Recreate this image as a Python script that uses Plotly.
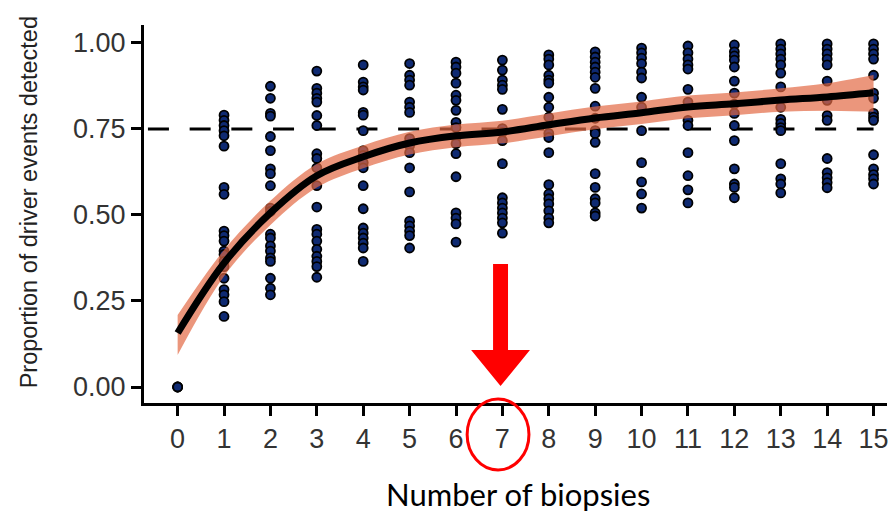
import plotly.graph_objects as go

# ---------------- data ----------------
biopsies = list(range(16))

obs = {
    0: [0.0, 0.0, 0.0],
    1: [0.79, 0.775, 0.76, 0.745, 0.73, 0.70, 0.58, 0.56, 0.453, 0.44, 0.424, 0.395, 0.385,
        0.365, 0.35, 0.316, 0.283, 0.268, 0.248, 0.205],
    2: [0.874, 0.839, 0.795, 0.787, 0.728, 0.687, 0.634, 0.62, 0.585, 0.52, 0.51, 0.444,
        0.433, 0.41, 0.395, 0.375, 0.365, 0.316, 0.287, 0.268],
    3: [0.918, 0.868, 0.854, 0.839, 0.828, 0.789, 0.76, 0.678, 0.664, 0.637, 0.585, 0.523,
        0.458, 0.444, 0.424, 0.40, 0.38, 0.365, 0.35, 0.319],
    4: [0.936, 0.886, 0.872, 0.863, 0.798, 0.79, 0.745, 0.687, 0.673, 0.652, 0.637, 0.585,
        0.518, 0.462, 0.447, 0.433, 0.418, 0.404, 0.365],
    5: [0.94, 0.906, 0.892, 0.877, 0.828, 0.813, 0.798, 0.722, 0.702, 0.681, 0.637, 0.567,
        0.482, 0.468, 0.453, 0.44, 0.404],
    6: [0.944, 0.93, 0.912, 0.883, 0.848, 0.833, 0.804, 0.769, 0.754, 0.725, 0.707, 0.678,
        0.611, 0.506, 0.491, 0.474, 0.421],
    7: [0.95, 0.921, 0.892, 0.877, 0.865, 0.807, 0.751, 0.74, 0.716, 0.649, 0.55, 0.535,
        0.52, 0.506, 0.491, 0.477, 0.447],
    8: [0.965, 0.953, 0.936, 0.906, 0.892, 0.883, 0.842, 0.813, 0.784, 0.737, 0.725, 0.681,
        0.588, 0.561, 0.547, 0.532, 0.512, 0.491, 0.477],
    9: [0.974, 0.959, 0.944, 0.93, 0.915, 0.90, 0.868, 0.816, 0.781, 0.745, 0.737, 0.711,
        0.62, 0.58, 0.547, 0.535, 0.506, 0.497],
    10: [0.985, 0.971, 0.956, 0.94, 0.915, 0.898, 0.842, 0.813, 0.745, 0.652, 0.596, 0.561, 0.52],
    11: [0.991, 0.971, 0.953, 0.936, 0.924, 0.865, 0.828, 0.775, 0.76, 0.681, 0.614, 0.573, 0.535],
    12: [0.994, 0.974, 0.962, 0.95, 0.93, 0.889, 0.854, 0.822, 0.795, 0.76, 0.716, 0.634,
         0.59, 0.58, 0.55],
    13: [0.997, 0.982, 0.968, 0.953, 0.936, 0.912, 0.872, 0.813, 0.778, 0.766, 0.754, 0.745,
         0.649, 0.605, 0.59, 0.564],
    14: [0.997, 0.982, 0.968, 0.953, 0.936, 0.889, 0.833, 0.789, 0.775, 0.664, 0.623, 0.608,
         0.594, 0.579],
    15: [0.997, 0.982, 0.968, 0.953, 0.906, 0.854, 0.839, 0.795, 0.784, 0.775, 0.675, 0.634,
         0.617, 0.605, 0.59],
}

# smoothed fit and its confidence band
fit = [0.157, 0.36, 0.506, 0.614, 0.669, 0.709, 0.73, 0.741, 0.762, 0.782, 0.797,
       0.814, 0.823, 0.834, 0.843, 0.855]
fit_upper = [0.209, 0.398, 0.541, 0.648, 0.702, 0.742, 0.763, 0.774, 0.795, 0.815, 0.83,
             0.847, 0.856, 0.868, 0.883, 0.907]
fit_lower = [0.093, 0.322, 0.471, 0.58, 0.636, 0.676, 0.697, 0.708, 0.729, 0.749, 0.764,
             0.781, 0.79, 0.8, 0.803, 0.80]

threshold = 0.75
threshold_x = [-0.64, 15.0]

x_ticks = list(range(16))
y_ticks = [0.0, 0.25, 0.5, 0.75, 1.0]
y_tick_labels = ["0.00", "0.25", "0.50", "0.75", "1.00"]

x_title = "Number of biopsies"
y_title = "Proportion of driver events detected"

# ---------------- figure ----------------
W, H = 889, 515
ML, MR, MT, MB = 144, 0, 25, 112
PW, PH = W - ML - MR, H - MT - MB
SANS = "Liberation Sans, Arial, Helvetica, sans-serif"


def px(xp):
    return (xp - ML) / PW


def py(yp):
    return (H - MB - yp) / PH


pts_x, pts_y = [], []
for k in biopsies:
    for v in obs[k]:
        pts_x.append(k)
        pts_y.append(v)

fig = go.Figure()

fig.add_trace(go.Scatter(
    x=threshold_x, y=[threshold, threshold], mode="lines",
    line=dict(color="black", width=3, dash="21px,20.7px"),
    hoverinfo="skip", showlegend=False))

fig.add_trace(go.Scatter(
    x=pts_x, y=pts_y, mode="markers",
    marker=dict(size=9, color="#0f2a72", line=dict(color="black", width=1.8)),
    showlegend=False))

fig.add_trace(go.Scatter(
    x=biopsies, y=fit_upper, mode="lines", line=dict(width=0, shape="spline"),
    hoverinfo="skip", showlegend=False))
fig.add_trace(go.Scatter(
    x=biopsies, y=fit_lower, mode="lines", line=dict(width=0, shape="spline"),
    fill="tonexty", fillcolor="rgba(226,105,69,0.70)",
    hoverinfo="skip", showlegend=False))

fig.add_trace(go.Scatter(
    x=biopsies, y=fit, mode="lines",
    line=dict(color="black", width=7, shape="spline"),
    showlegend=False))

# red arrow pointing at 7
ax_c = 501.5
arrow = [(494, 264), (509, 264), (509, 350), (531, 350), (ax_c, 386), (472, 350), (494, 350)]
path = "M " + " L ".join(f"{px(a):.5f},{py(b):.5f}" for a, b in arrow) + " Z"

axis_common = dict(showgrid=False, zeroline=False,
                   showline=True, linecolor="black", linewidth=3,
                   ticks="outside", ticklen=10, tickwidth=3, tickcolor="black",
                   tickfont=dict(size=27, color="#333333", family=SANS),
                   ticklabeloverflow="allow")

fig.update_layout(
    width=W, height=H,
    margin=dict(l=ML, r=MR, t=MT, b=MB, pad=0),
    paper_bgcolor="white", plot_bgcolor="white",
    font=dict(family=SANS, color="#333333"),
    xaxis=dict(range=[-0.725, 15.29], tickvals=x_ticks, **axis_common),
    yaxis=dict(range=[-0.0465, 1.052], tickvals=y_ticks, ticktext=y_tick_labels,
               **axis_common),
    shapes=[
        dict(type="path", xref="paper", yref="paper", path=path,
             fillcolor="#ff0000", line=dict(width=0)),
        dict(type="circle", xref="paper", yref="paper",
             x0=px(468), x1=px(530), y0=py(470), y1=py(399),
             line=dict(color="#ff0000", width=3)),
    ],
    annotations=[
        dict(text=y_title, xref="paper", yref="paper", x=px(29), y=py(202),
             textangle=-90, showarrow=False, xanchor="center", yanchor="middle",
             font=dict(size=23.5, color="#222222", family=SANS)),
        dict(text=x_title, xref="paper", yref="paper", x=px(519), y=py(494),
             showarrow=False, xanchor="center", yanchor="middle",
             font=dict(size=31, color="black", family="Lato, Open Sans, sans-serif")),
    ],
)

fig.write_html("out.html")
